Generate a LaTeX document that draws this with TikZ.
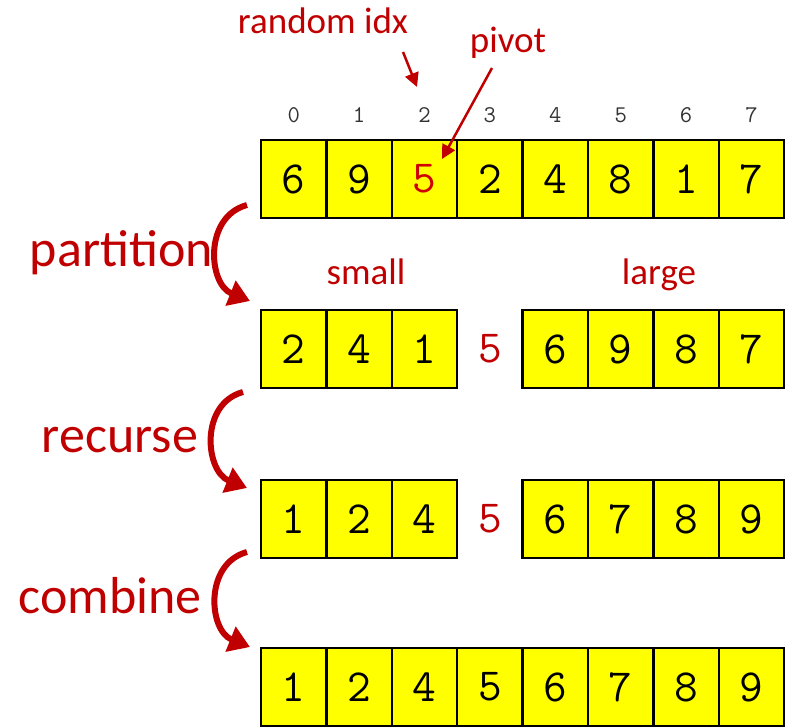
\documentclass[tikz,border=0pt]{standalone}
\usepackage{fontspec}
\setmainfont{Carlito}
\usetikzlibrary{arrows.meta, positioning}
\definecolor{darkred}{RGB}{192,0,0}
\definecolor{pivred}{RGB}{208,0,0}
\definecolor{cellyellow}{RGB}{255,255,0}

\begin{document}
\begin{tikzpicture}[x=1pt, y=1pt,
  cell/.style={draw=black, line width=2.5pt, fill=cellyellow, minimum width=65.4pt, minimum height=78pt, inner sep=0pt, font=\ttfamily\fontsize{46}{46}\selectfont},
  idx/.style={anchor=base, text=black!80, font=\ttfamily\fontsize{24}{24}\selectfont},
  lbl/.style={anchor=base, text=darkred, font=\fontsize{37}{37}\selectfont},
  stagelbl/.style={anchor=base, text=darkred, font=\fontsize{52}{52}\selectfont},
  pivnum/.style={text=darkred, font=\ttfamily\fontsize{46}{46}\selectfont},
  pointer/.style={draw=darkred, line width=2.5pt, -{Triangle[length=14pt, width=14pt]}},
  bendarrow/.style={draw=darkred, line width=6pt, -{Triangle[length=21pt, width=26pt]}, looseness=1.2}
]
  \useasboundingbox (0,0) rectangle (787,-726);

  % input array with indices
  \foreach \v/\c [count=\i from 0] in {6/black, 9/black, 5/pivred, 2/black, 4/black, 8/black, 1/black, 7/black} {
    \node[cell, text=\c] (a\i) at ({293.7+65.4*\i},-179) {\v};
    \node[idx] (n\i) at ({293.7+65.4*\i},-122) {\i};
  }

  % after partition
  \foreach \v [count=\i from 0] in {2,4,1} \node[cell] (b\i) at ({293.7+65.4*\i},-349) {\v};
  \node[pivnum] (bp) at (489.9,-349) {5};
  \foreach \v [count=\i from 4] in {6,9,8,7} \node[cell] (b\i) at ({293.7+65.4*\i},-349) {\v};

  % after recursion
  \foreach \v [count=\i from 0] in {1,2,4} \node[cell] (c\i) at ({293.7+65.4*\i},-519) {\v};
  \node[pivnum] (cp) at (489.9,-519) {5};
  \foreach \v [count=\i from 4] in {6,7,8,9} \node[cell] (c\i) at ({293.7+65.4*\i},-519) {\v};

  % combined result
  \foreach \v [count=\i from 0] in {1,2,4,5,6,7,8,9} \node[cell] (d\i) at ({293.7+65.4*\i},-687) {\v};

  % labels
  \node[lbl] (rnd) at (323,-33) {random idx};
  \node[lbl] (piv) at (508,-52) {pivot};
  \node[lbl] (small) at (366,-284) {small};
  \node[lbl] (large) at (659,-284) {large};
  \node[stagelbl] (part) at (121.5,-266) {partition};
  \node[stagelbl] (rec) at (120,-452) {recurse};
  \node[stagelbl] (comb) at (110,-613) {combine};

  \coordinate (rndtail) at (403,-52);
  \coordinate (rndtip) at (417,-87);
  \coordinate (pivtail) at (492,-68);
  \coordinate (pivtip) at (442,-159);
  \draw[pointer] (rndtail) -- (rndtip);
  \draw[pointer] (pivtail) -- (pivtip);

  % stage arrows
  \coordinate (s1) at (247,-205);
  \coordinate (e1) at (250,-301);
  \coordinate (s2) at (243,-392);
  \coordinate (e2) at (247,-488);
  \coordinate (s3) at (247,-552);
  \coordinate (e3) at (250,-647);
  \draw[bendarrow] (s1) to[out=195, in=158] (e1);
  \draw[bendarrow] (s2) to[out=195, in=158] (e2);
  \draw[bendarrow] (s3) to[out=195, in=158] (e3);
\end{tikzpicture}
\end{document}
